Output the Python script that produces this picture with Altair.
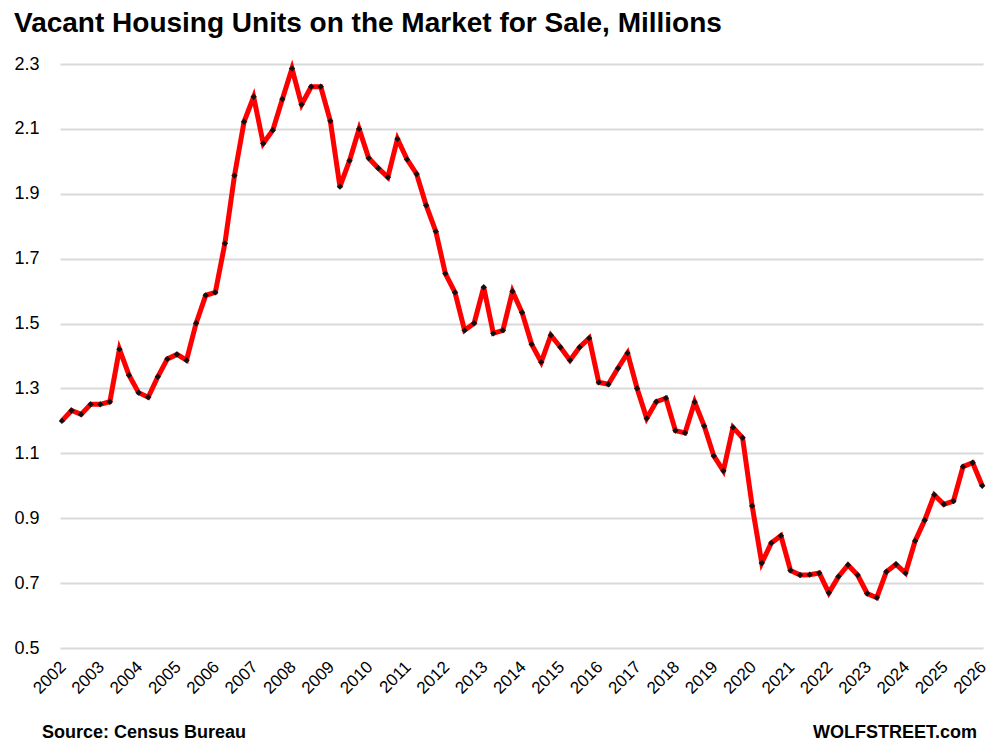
import altair as alt
import pandas as pd

# Quarterly values (millions), 2002 Q1 onwards
values = [
    1.200, 1.232, 1.220, 1.251, 1.251, 1.259, 1.421, 1.341, 1.287, 1.273,
    1.336, 1.391, 1.405, 1.387, 1.501, 1.587, 1.596, 1.747, 1.956, 2.122,
    2.199, 2.055, 2.096, 2.192, 2.286, 2.175, 2.230, 2.230, 2.124, 1.922,
    2.002, 2.100, 2.010, 1.979, 1.951, 2.069, 2.006, 1.961, 1.864, 1.784,
    1.654, 1.596, 1.479, 1.501, 1.612, 1.470, 1.479, 1.599, 1.534, 1.436,
    1.381, 1.464, 1.427, 1.387, 1.427, 1.455, 1.319, 1.313, 1.362, 1.409,
    1.300, 1.208, 1.259, 1.270, 1.170, 1.163, 1.258, 1.184, 1.092, 1.046,
    1.180, 1.148, 0.938, 0.762, 0.824, 0.846, 0.739, 0.725, 0.726, 0.731,
    0.670, 0.720, 0.756, 0.725, 0.668, 0.655, 0.735, 0.758, 0.731, 0.830,
    0.894, 0.972, 0.943, 0.953, 1.059, 1.071, 1.000,
]
start_year = 2002
periods = [start_year + i / 4 for i in range(len(values))]

year_ticks = list(range(2002, 2027))
y_ticks = [0.5, 0.7, 0.9, 1.1, 1.3, 1.5, 1.7, 1.9, 2.1, 2.3]

title_text = "Vacant Housing Units on the Market for Sale, Millions"
source_text = "Source: Census Bureau"
brand_text = "WOLFSTREET.com"

df = pd.DataFrame({"period": periods, "units": values})
years_df = pd.DataFrame({"period": [float(y) for y in year_ticks],
                         "label": [str(y) for y in year_ticks]})

FONT = "Liberation Sans"

x_scale = alt.Scale(domain=[2001.95, 2026.02], nice=False, zero=False)

x_enc = alt.X("period:Q", scale=x_scale, axis=None)
y_enc = alt.Y(
    "units:Q",
    scale=alt.Scale(domain=[0.5, 2.3], nice=False, zero=False),
    axis=alt.Axis(
        values=y_ticks, format=".1f", title=None, domain=False, ticks=False,
        labelPadding=21, labelFontSize=18, labelFont=FONT, labelColor="#000000",
        gridColor="#d9d9d9", gridWidth=2,
    ),
)

base = alt.Chart(df)
line = base.mark_line(color="#ff0000", strokeWidth=5).encode(x=x_enc, y=y_enc)
pts = base.mark_point(shape="diamond", filled=True, color="#111111", size=40, opacity=1).encode(
    x="period:Q", y="units:Q"
)

year_labels = alt.Chart(years_df).mark_text(
    angle=315, align="right", baseline="middle", fontSize=17, font=FONT,
    color="#000000", dx=2,
).encode(
    x=alt.X("period:Q", scale=x_scale),
    y=alt.value(602),
    text="label:N",
)

src = alt.Chart(pd.DataFrame({"t": [source_text]})).mark_text(
    align="left", baseline="middle", fontSize=18, fontWeight="bold", font=FONT, color="#000000"
).encode(text="t:N", x=alt.value(-18), y=alt.value(669))

brand = alt.Chart(pd.DataFrame({"t": [brand_text]})).mark_text(
    align="right", baseline="middle", fontSize=18, fontWeight="bold", font=FONT, color="#000000"
).encode(text="t:N", x=alt.value(917), y=alt.value(669))

chart = alt.layer(line, pts, year_labels, src, brand).properties(
    width=923,
    height=584,
    title=alt.TitleParams(
        title_text, anchor="start", frame="group", dx=-46, offset=17,
        fontSize=28, fontWeight="bold", font=FONT, color="#000000",
    ),
    autosize=alt.AutoSizeParams(type="none"),
    padding={"left": 52, "top": 56, "right": 7, "bottom": 94},
).configure_view(stroke=None)

chart.save("out.html", embed_options={"renderer": "svg", "actions": False})
